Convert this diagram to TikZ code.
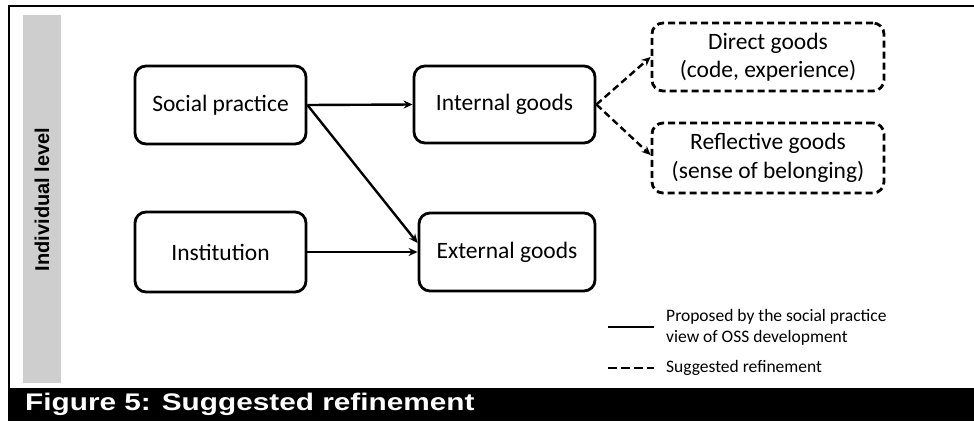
\documentclass[tikz,border=0pt]{standalone}
\usepackage{fontspec}
\setmainfont{Carlito}
\newfontfamily\headfont{Liberation Sans}
\usetikzlibrary{arrows.meta}
\definecolor{levelgray}{RGB}{206,206,206}
\tikzset{
  goodbox/.style={draw, line width=2.8pt, rounded corners=11pt, align=center,
    inner sep=0pt, font=\fontsize{23.5}{28.5}\selectfont},
  refinebox/.style={goodbox, dash pattern=on 7pt off 4pt},
  link/.style={line width=2.4pt, -{Stealth[length=9pt,width=8pt]}},
  refinelink/.style={link, dash pattern=on 7pt off 4pt},
  legendtext/.style={anchor=west, align=left, inner sep=0pt,
    font=\fontsize{17.5}{21}\selectfont},
}
\begin{document}
\begin{tikzpicture}[x=1pt, y=-1pt]
  \useasboundingbox (0,0) rectangle (974,421);
  % frame and caption bar
  \draw[line width=2.5pt] (9,388) -- (9,6) -- (974,6);
  \fill[black] (8,388) rectangle (974,421);
  \node[anchor=west, inner sep=0pt, text=white] (caption) at (25,404)
    {\scalebox{1.24}[1]{\headfont\bfseries\fontsize{24}{28}\selectfont Figure 5: Suggested refinement}};
  % level band
  \fill[levelgray] (23,15) rectangle (61,383);
  \node[rotate=90, inner sep=0pt, font=\headfont\bfseries\fontsize{20}{24}\selectfont] (level) at (42,199.5) {Individual level};
  % boxes
  \node[goodbox, minimum width=171pt, minimum height=78pt] (sp) at (220.5,105) {Social practice};
  \node[goodbox, minimum width=171pt, minimum height=80pt] (inst) at (220.5,252) {Institution};
  \node[goodbox, minimum width=181pt, minimum height=77pt] (ig) at (504.5,104.5) {Internal goods};
  \node[goodbox, minimum width=176pt, minimum height=78pt] (eg) at (507,252) {External goods};
  \node[refinebox, minimum width=232pt, minimum height=68pt] (dg) at (768,57) {Direct goods\\(code, experience)};
  \node[refinebox, minimum width=232pt, minimum height=70pt] (rg) at (768,158) {Reflective goods\\(sense of belonging)};
  % connectors
  \draw[link] (sp.east) -- (ig.west);
  \draw[link] (sp.east) -- ([yshift=9pt]eg.west);
  \draw[link] (inst.east) -- (eg.west);
  \draw[refinelink] (ig.east) -- (dg.west);
  \draw[refinelink] (ig.east) -- ([yshift=3pt]rg.west);
  % legend
  \coordinate (solidA) at (608,327);
  \coordinate (solidB) at (654,327);
  \coordinate (dashA) at (608,368);
  \coordinate (dashB) at (654,368);
  \draw[line width=2.5pt] (solidA) -- (solidB);
  \draw[line width=2.5pt, dash pattern=on 9pt off 4pt] (dashA) -- (dashB);
  \node[legendtext] (solidtext) at (666,327) {Proposed by the social practice\\view of OSS development};
  \node[legendtext] (dashtext) at (666,368) {Suggested refinement};
\end{tikzpicture}
\end{document}
